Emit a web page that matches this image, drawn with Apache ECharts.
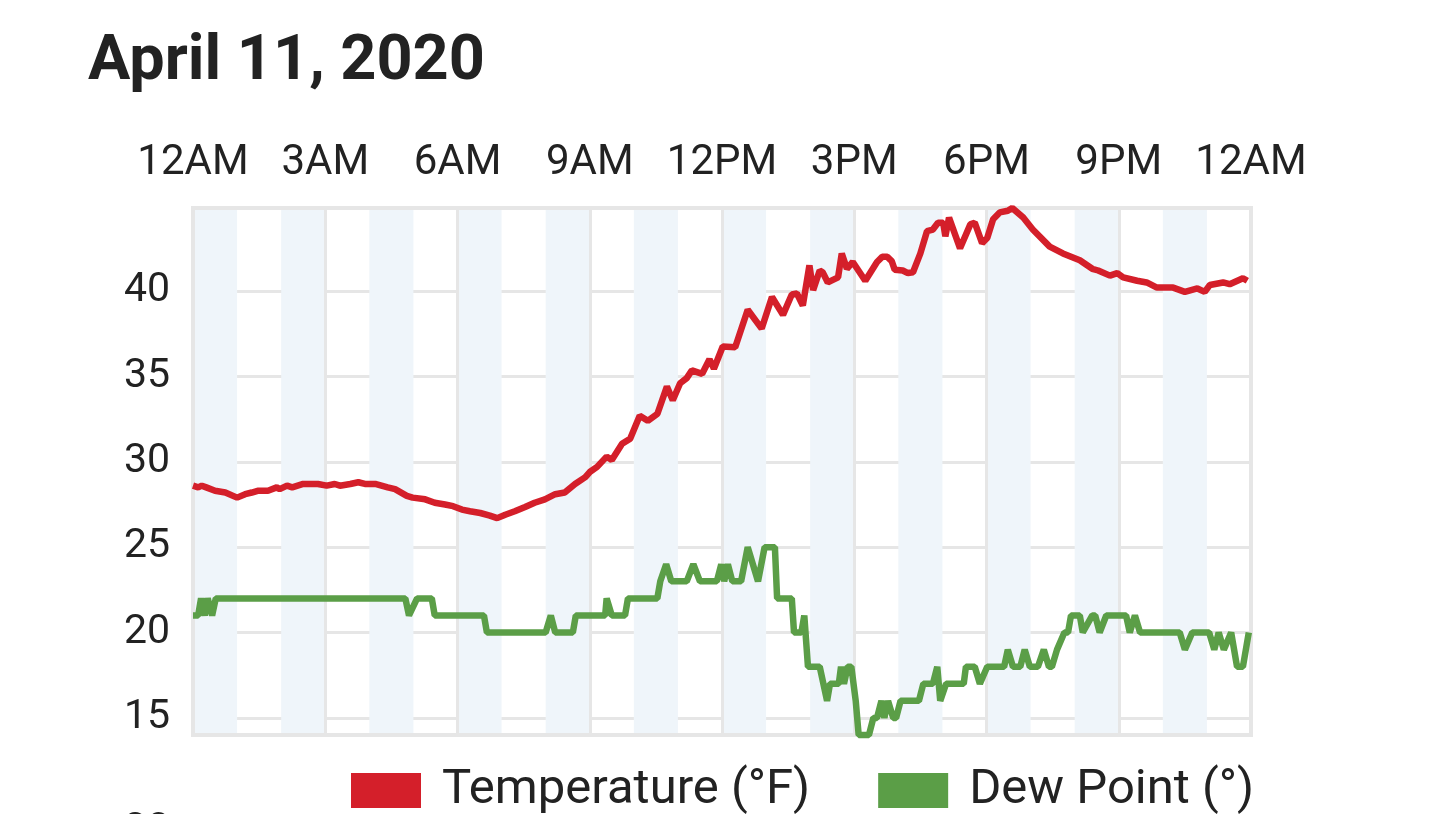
<!DOCTYPE html>
<html>
<head>
<meta charset="utf-8">
<title>April 11, 2020</title>
<script src="https://cdn.jsdelivr.net/npm/echarts@6/dist/echarts.min.js"></script>
<style>
html, body { margin: 0; padding: 0; background: #fff; }
#main { width: 1440px; height: 814px; }
</style>
</head>
<body>
<div id="main"></div>
<script>
var title = 'April 11, 2020';
var seriesNames = ['Temperature (°F)', 'Dew Point (°)'];
var hourLabels = ['12AM', '3AM', '6AM', '9AM', '12PM', '3PM', '6PM', '9PM', '12AM'];//每3小时一个
var valueTicks = [15, 20, 25, 30, 35, 40];
var nextChartLabel = '30';//下一张图被截掉的刻度

// [分钟, 数值]
var temperature = [
    [0, 28.6], [7, 28.5], [12, 28.6], [18, 28.5], [30, 28.3], [44, 28.2], [60, 27.9], [71, 28.1],
    [80, 28.2], [88, 28.3], [102, 28.3], [114, 28.5], [118, 28.4], [128, 28.6], [135, 28.5], [150, 28.7],
    [170, 28.7], [182, 28.6], [193, 28.7], [200, 28.6], [214, 28.7], [225, 28.8], [234, 28.7], [248, 28.7],
    [265, 28.5], [275, 28.4], [291, 28.0], [299, 27.9], [316, 27.8], [329, 27.6], [343, 27.5], [354, 27.4],
    [366, 27.2], [377, 27.1], [391, 27.0], [404, 26.85], [414, 26.7], [425, 26.9], [438, 27.1], [452, 27.35],
    [465, 27.6], [479, 27.8], [493, 28.1], [506, 28.2], [520, 28.7], [534, 29.1], [540, 29.4], [550, 29.7],
    [563, 30.3], [570, 30.1], [584, 31.05], [595, 31.35], [608, 32.7], [619, 32.4], [632, 32.8], [645, 34.4],
    [653, 33.6], [663, 34.6], [672, 34.9], [679, 35.35], [693, 35.15], [703, 36.0], [709, 35.45], [721, 36.75],
    [738, 36.7], [755, 38.9], [774, 37.8], [788, 39.65], [803, 38.6], [815, 39.8], [822, 39.85], [830, 39.15],
    [839, 41.5], [844, 40.05], [853, 41.2], [857, 41.1], [864, 40.5], [878, 40.8], [883, 42.2], [890, 41.3],
    [898, 41.7], [915, 40.6], [931, 41.7], [938, 42.0], [945, 42.0], [951, 41.75], [955, 41.25], [966, 41.2],
    [973, 41.05], [980, 41.1], [990, 42.2], [999, 43.5], [1007, 43.6], [1014, 44.0], [1021, 44.0], [1024, 43.2],
    [1029, 44.3], [1044, 42.5], [1058, 43.9], [1064, 44.0], [1074, 42.8], [1081, 43.1], [1089, 44.2], [1098, 44.6],
    [1109, 44.7], [1115, 44.86], [1130, 44.3], [1143, 43.6], [1166, 42.6], [1184, 42.2], [1207, 41.8], [1224, 41.3],
    [1232, 41.2], [1248, 40.9], [1258, 41.05], [1266, 40.8], [1285, 40.6], [1298, 40.5], [1312, 40.2], [1334, 40.2],
    [1350, 39.95], [1367, 40.15], [1377, 39.95], [1384, 40.35], [1402, 40.5], [1411, 40.4], [1429, 40.75], [1435, 40.6]
];

var dewPoint = [
    [0, 21], [7, 21], [11, 22], [16, 21], [20, 22], [26, 21], [31, 22], [289, 22],
    [294, 21], [305, 22], [325, 22], [329, 21], [396, 21], [400, 20], [480, 20], [487, 21],
    [493, 20], [517, 20], [521, 21], [561, 21], [563, 22], [570, 21], [588, 21], [592, 22],
    [632, 22], [636, 23], [644, 24], [651, 23], [672, 23], [681, 24], [690, 23], [713, 23],
    [719, 24], [723, 23], [728, 24], [734, 23], [746, 23], [755, 25], [769, 23], [778, 25],
    [792, 25], [795, 22], [815, 22], [818, 20], [828, 20], [832, 21], [837, 18], [853, 18],
    [863, 16], [867, 17], [879, 17], [882, 18], [886, 17], [891, 18], [896, 18], [902, 16],
    [906, 14], [920, 14], [926, 15], [931, 15], [937, 16], [941, 15], [946, 16], [953, 15],
    [957, 15], [963, 16], [988, 16], [994, 17], [1007, 17], [1013, 18], [1017, 16], [1025, 17],
    [1049, 17], [1052, 18], [1064, 18], [1071, 17], [1081, 18], [1104, 18], [1109, 19], [1116, 18],
    [1126, 18], [1132, 19], [1139, 18], [1150, 18], [1158, 19], [1165, 18], [1169, 18], [1176, 19],
    [1186, 20], [1191, 20], [1195, 21], [1207, 21], [1211, 20], [1224, 21], [1228, 21], [1234, 20],
    [1243, 21], [1270, 21], [1275, 20], [1282, 21], [1289, 20], [1343, 20], [1350, 19], [1360, 20],
    [1383, 20], [1390, 19], [1396, 20], [1403, 19], [1413, 20], [1421, 18], [1429, 18], [1437, 20]
];

var gridColor = '#e6e6e6';
var clear = 'rgba(0,0,0,0)';

var myChart = echarts.init(document.getElementById('main'));

var option = {
    animation: false,
    textStyle: { fontFamily: 'Roboto' },
    title: {
        text: title,
        left: 83,
        top: 27,
        textStyle: { fontSize: 63, fontWeight: 'bold', color: '#222', fontFamily: 'Roboto' }
    },
    legend: {
        data: seriesNames,
        left: 346,
        top: 761,
        icon: 'rect',
        itemWidth: 70,
        itemHeight: 35,
        itemGap: 68,
        textStyle: { fontSize: 49, color: '#222', fontFamily: 'Roboto', padding: [0, 0, 0, 16] }
    },
    grid: {
        show: true,
        z: 1,
        left: 193,
        right: 189,
        top: 208,
        bottom: 79,
        backgroundColor: clear,
        borderColor: gridColor,
        borderWidth: 4
    },
    xAxis: {
        type: 'value',
        position: 'top',
        min: 0,
        max: 1440,
        interval: 60,
        axisLine: { show: false },
        axisTick: { show: false },
        axisLabel: {
            margin: 24,
            fontSize: 42,
            color: '#222',
            showMinLabel: true,
            showMaxLabel: true,
            formatter: function (v) {
                return v % 180 === 0 ? hourLabels[v / 180] : '';
            }
        },
        // 每3小时一条竖线
        splitLine: { show: true, lineStyle: { color: [gridColor, clear, clear], width: 3 } },
        // 隔小时浅蓝色条带
        splitArea: { show: true, areaStyle: { color: ['#eff5fa', clear] } }
    },
    yAxis: {
        type: 'value',
        min: 14,
        max: 'dataMax',
        interval: 1,
        axisLine: { show: false },
        axisTick: { show: false },
        axisLabel: {
            margin: 23,
            fontSize: 41,
            color: '#222',
            formatter: function (v) {
                return valueTicks.indexOf(v) >= 0 ? String(v) : '';
            }
        },
        splitLine: { show: true, lineStyle: { color: [clear, gridColor, clear, clear, clear], width: 3 } }
    },
    graphic: [{
        type: 'text',
        x: 170,
        y: 831,
        style: { text: nextChartLabel, fontSize: 41, fontFamily: 'Roboto', fill: '#222', align: 'right', verticalAlign: 'middle' }
    }],
    series: [
        {
            name: seriesNames[0],
            type: 'line',
            data: temperature,
            showSymbol: false,
            clip: false,
            color: '#d41f2a',
            lineStyle: { width: 6.5, color: '#d41f2a' }
        },
        {
            name: seriesNames[1],
            type: 'line',
            data: dewPoint,
            showSymbol: false,
            clip: false,
            color: '#5b9e47',
            lineStyle: { width: 6.5, color: '#5b9e47' }
        }
    ]
};
myChart.setOption(option);
</script>
</body>
</html>
